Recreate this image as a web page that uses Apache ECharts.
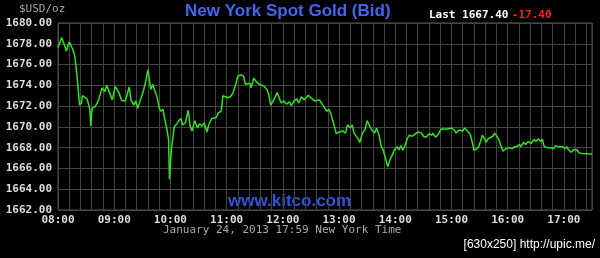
<!DOCTYPE html>
<html><head><meta charset="utf-8">
<script src="https://cdn.jsdelivr.net/npm/echarts@6/dist/echarts.min.js"></script>
<style>html,body{margin:0;padding:0;background:#000;}#c{width:600px;height:258px;}</style>
</head><body><div id="c"></div>
<script>
// minutes after 08:00 New York time
var minutes = [0,4,9,12,16,18,20,23,25,26,31,32,34,35,36,37,40,43,47,50,52,55,58,61,65,68,72,76,78,81,83,85,88,91,94,96,99,101,103,106,108,110,112,114,116,118,119,121,122,124,126,129,131,133,136,139,141,143,146,148,149,151,154,156,159,161,164,166,169,171,174,175,176,178,181,184,187,190,192,195,198,200,202,205,206,209,212,215,217,220,223,225,227,230,234,236,238,241,244,247,249,252,255,257,260,263,267,270,274,276,279,282,284,287,289,291,294,297,300,304,307,309,312,314,316,320,322,325,328,330,332,335,338,340,343,345,347,350,352,355,357,359,362,364,366,368,370,373,375,378,381,384,388,390,393,396,399,400,403,406,409,413,416,420,423,425,428,430,432,434,437,440,442,444,447,449,451,453,455,457,459,461,464,466,468,470,473,475,478,480,482,485,487,490,492,494,497,499,502,505,508,510,513,515,517,519,523,526,529,531,534,536,539,541,543,545,548,550,554,556,559,570];
var bids = [1677.65,1678.6,1677.3,1678.2,1677.4,1676.8,1675.2,1672.1,1672.3,1673.0,1672.7,1672.6,1671.7,1670.06,1671.5,1671.8,1672.0,1672.5,1673.75,1673.4,1674.0,1673.3,1672.6,1673.9,1673.3,1672.55,1672.5,1673.85,1672.6,1672.1,1672.5,1671.8,1672.6,1673.4,1674.55,1675.5,1673.6,1674.1,1674.2,1672.8,1671.8,1671.5,1671.7,1670.7,1669.9,1668.8,1664.96,1667.85,1668.5,1670.0,1670.2,1670.6,1670.8,1670.2,1670.4,1671.6,1670.1,1669.6,1670.6,1670.5,1669.9,1670.3,1670.06,1670.4,1669.5,1670.2,1670.8,1670.7,1670.9,1671.35,1671.5,1672.1,1673.0,1672.9,1672.8,1672.9,1673.3,1674.2,1674.9,1675.0,1674.9,1674.1,1674.0,1674.2,1673.75,1674.7,1674.3,1674.1,1674.2,1673.9,1673.6,1673.1,1672.1,1672.55,1673.3,1672.8,1672.3,1672.5,1672.2,1672.4,1672.05,1672.5,1672.7,1672.3,1672.9,1672.6,1673.05,1672.8,1672.5,1672.4,1672.6,1672.2,1672.1,1671.5,1671.7,1671.35,1670.4,1669.35,1669.5,1669.6,1669.4,1670.2,1669.9,1670.2,1669.4,1668.9,1668.5,1669.4,1669.8,1670.6,1670.2,1669.7,1669.4,1669.9,1669.1,1668.1,1667.8,1666.85,1666.15,1667.0,1667.3,1667.8,1668.1,1667.8,1668.2,1667.75,1668.1,1668.9,1669.2,1669.1,1669.3,1669.5,1669.4,1669.1,1669.0,1669.35,1669.2,1669.4,1669.0,1669.3,1669.8,1669.8,1669.8,1669.9,1669.7,1669.4,1669.7,1669.8,1669.6,1669.9,1669.6,1669.3,1668.6,1667.75,1667.9,1668.1,1668.6,1669.2,1668.9,1668.5,1668.85,1668.9,1669.1,1669.4,1669.25,1668.9,1668.1,1667.65,1667.9,1667.75,1668.0,1667.9,1668.1,1668.1,1668.3,1668.1,1668.5,1668.3,1668.6,1668.4,1668.8,1668.6,1668.85,1668.6,1668.8,1668.1,1668.0,1668.0,1667.9,1668.2,1668.1,1668.0,1668.1,1667.9,1668.1,1667.8,1667.55,1667.8,1667.8,1667.5,1667.45,1667.4];
var hourLabels = ['08:00','09:00','10:00','11:00','12:00','13:00','14:00','15:00','16:00','17:00'];
var titleText = 'New York Spot Gold (Bid)';
var lastText = 'Last 1667.40';
var changeText = '-17.40';
var unitText = '$USD/oz';
var dateText = 'January 24, 2013 17:59 New York Time';
var siteText = 'www.kitco.com';
var creditText = '[630x250] http://upic.me/';

var chart = echarts.init(document.getElementById('c'), null, {renderer:'canvas'});
var pts = minutes.map(function(m,i){return [m, bids[i]];});
var mono = 'DejaVu Sans Mono';
chart.setOption({
  backgroundColor:'#000',
  animation:false,
  grid:{left:58,right:8,top:23,bottom:48,show:true,borderColor:'#5a5a5a',borderWidth:1,backgroundColor:'transparent'},
  graphic:[
    {type:'text',left:185,top:3,style:{text:titleText,fill:'#4466ee',font:'bold 17px "Liberation Sans", Arial, sans-serif'}},
    {type:'text',left:429,top:9,style:{rich:{a:{fill:'#ffffff',fontFamily:mono,fontWeight:'bold',fontSize:11},b:{fill:'#ff2222',fontFamily:mono,fontWeight:'bold',fontSize:11}},text:'{a|'+lastText+'} {b|'+changeText+'}'}},
    {type:'text',left:19,top:4,style:{text:unitText,fill:'#aaaaaa',font:'11px "DejaVu Sans Mono", monospace'}},
    {type:'text',left:228,top:193,style:{text:siteText,fill:'#3355dd',font:'bold 17px "Liberation Sans", Arial, sans-serif'}},
    {type:'text',left:163,top:225,style:{text:dateText,fill:'#aaaaaa',font:'11px "DejaVu Sans Mono", monospace'}},
    {type:'text',right:5,top:239,style:{text:creditText,fill:'#ffffff',font:'12px "Liberation Sans", Arial, sans-serif'}}
  ],
  xAxis:{type:'value',min:0,max:570,interval:60,
    axisLine:{show:false},axisTick:{show:false},
    splitLine:{show:true,lineStyle:{color:'#444444',width:1}},
    minorTick:{show:false},
    minorSplitLine:{show:true,lineStyle:{color:'#444444',width:1}},
    splitNumber:2,
    axisLabel:{color:'#dddddd',fontFamily:mono,fontWeight:'bold',fontSize:11,margin:5,
      formatter:function(v){var i=Math.round(v/60);return hourLabels[i]||'';}}
  },
  yAxis:{type:'value',min:1662,max:1680,interval:2,
    axisLine:{show:false},axisTick:{show:false},
    splitLine:{show:true,lineStyle:{color:'#444444',width:1}},
    axisLabel:{color:'#dddddd',fontFamily:mono,fontWeight:'bold',fontSize:11,margin:6,
      formatter:function(v){return v.toFixed(2);}}
  },
  series:[{type:'line',data:pts,showSymbol:false,lineStyle:{color:'#33e022',width:1.5},itemStyle:{color:'#33e022'}}]
});
</script></body></html>
